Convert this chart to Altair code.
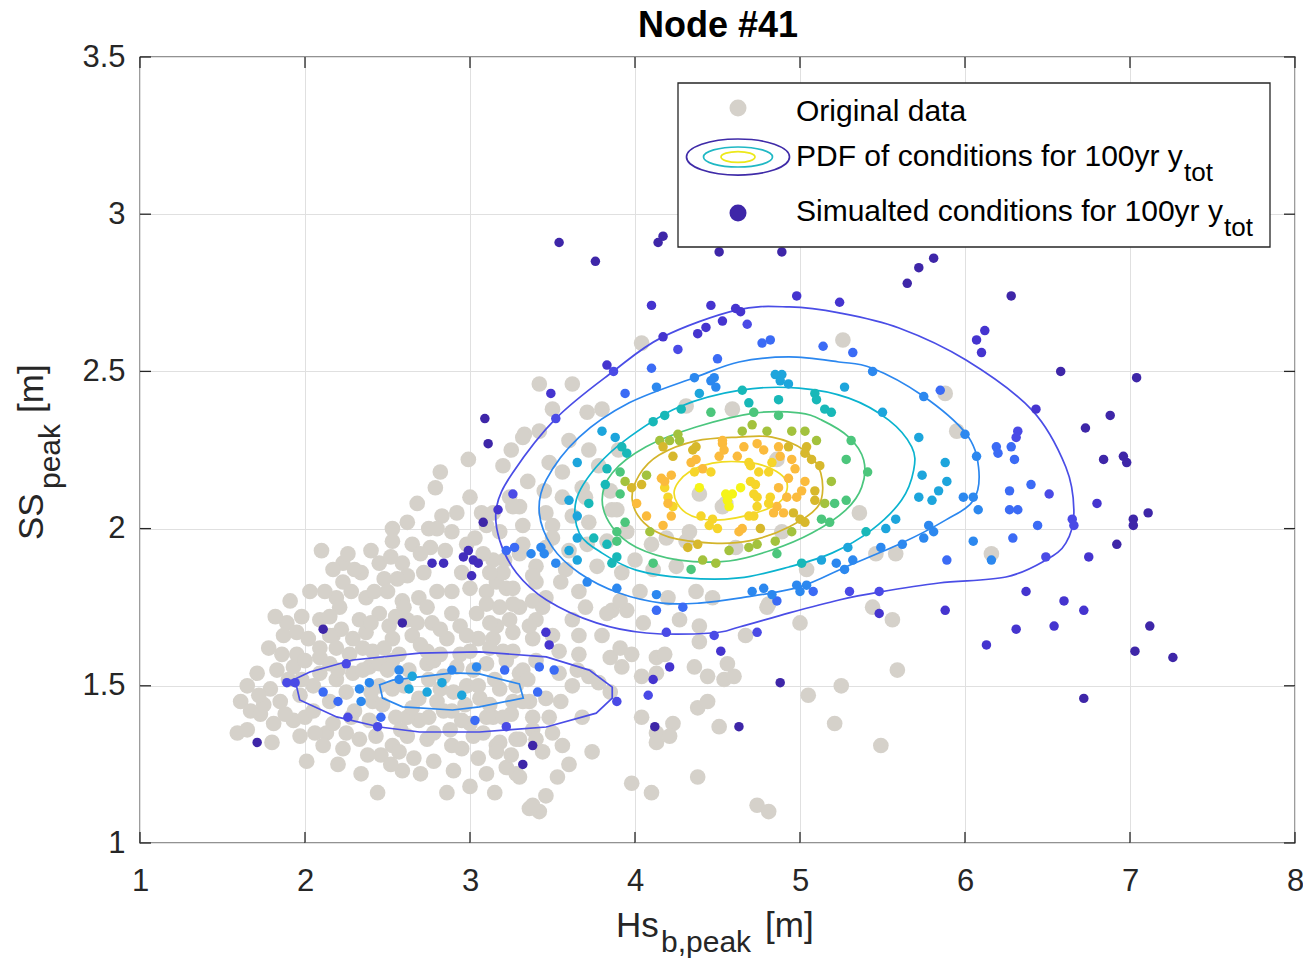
import altair as alt
import pandas as pd

FONT = "Liberation Sans"
TXT = "#262626"

# ---------------- data ----------------
x_ticks = [1, 2, 3, 4, 5, 6, 7, 8]
y_ticks = [1, 1.5, 2, 2.5, 3, 3.5]

orig_pts = [
    (2.99,2.22),(2.82,2.18),(2.79,2.13),(2.68,2.08),(2.83,2.04),(2.53,2.00),(2.80,2.00),(2.89,1.99),(2.53,1.96),(2.65,1.95),
    (2.76,1.94),(2.98,1.95),(3.07,2.05),(2.10,1.93),(2.23,1.89),(2.17,1.87),(2.34,1.86),(2.45,1.89),(2.59,1.89),(2.62,1.85),
    (2.48,1.84),(2.03,1.80),(1.91,1.77),(2.23,1.83),(2.28,1.80),(2.19,1.78),(2.37,1.78),(2.50,1.80),(2.59,1.77),(2.69,1.78),
    (2.80,1.80),(2.89,1.80),(3.00,1.81),(3.10,1.80),(3.16,1.83),(3.22,1.81),(3.20,1.86),(3.21,1.90),(3.14,1.90),(3.08,1.92),
    (3.03,1.97),(3.10,2.01),(3.30,2.07),(3.32,2.01),(3.20,2.20),(3.33,2.30),(3.42,2.31),(3.24,2.10),
    (2.21,1.75),(2.33,1.71),(2.45,1.73),(2.51,1.69),(2.62,1.71),(2.74,1.75),(2.77,1.70),(2.89,1.73),(2.94,1.69),(3.04,1.73),
    (3.10,1.76),(3.18,1.75),(3.24,1.71),(3.30,1.75),(3.38,1.77),(3.40,1.71),(1.89,1.70),(1.87,1.66),(1.95,1.67),(1.86,1.60),
    (1.95,1.60),(2.09,1.71),(2.09,1.62),(2.17,1.66),(2.29,1.65),(2.37,1.67),(2.41,1.61),(2.53,1.65),(2.65,1.66),(2.74,1.61),
    (2.86,1.65),(3.00,1.61),(3.14,1.65),(3.26,1.61),(3.38,1.65),
    (1.71,1.54),(1.61,1.45),(1.67,1.42),(1.73,1.41),(1.59,1.35),(1.65,1.36),(1.81,1.38),(1.79,1.49),(1.97,1.34),(1.93,1.39),
    (2.01,1.26),(2.09,1.59),(2.19,1.62),(2.13,1.35),(2.11,1.31),(2.23,1.30),(2.17,1.38),(2.33,1.33),(2.39,1.39),(2.43,1.34),
    (2.53,1.31),(2.57,1.29),(2.59,1.23),(2.44,1.16),(2.62,1.34),(2.69,1.39),(2.74,1.33),(2.80,1.45),(2.89,1.42),(2.89,1.31),
    (2.86,1.16),(3.00,1.38),(3.02,1.34),(3.10,1.40),(3.16,1.31),(3.10,1.22),(3.22,1.24),(3.30,1.33),(3.28,1.22),(3.36,1.11),
    (3.42,1.10),(3.44,1.29),(3.46,1.15),(1.75,1.44),(1.83,1.55),
    (2.09,1.54),(2.19,1.52),(2.29,1.54),(2.39,1.56),(2.53,1.58),(2.74,1.57),(2.94,1.60),(3.10,1.57),(3.20,1.61),(3.30,1.54),
    (3.40,1.58),(2.25,1.48),(2.41,1.45),(2.53,1.49),(2.69,1.46),(2.82,1.49),(2.98,1.50),(3.06,1.46),(3.18,1.49),(3.26,1.45),
    (3.36,1.45),(3.38,1.40),(2.62,1.40),
    (3.26,1.76),(3.44,1.75),(3.36,1.69),(3.62,1.71),(3.86,1.74),(3.95,1.74),(3.66,1.66),(3.50,1.66),(3.26,1.67),(3.16,1.69),
    (3.54,1.61),(3.66,1.60),(3.85,1.59),(3.91,1.62),(3.92,1.56),(3.32,1.55),(3.54,1.54),(3.72,1.53),(3.78,1.51),(3.32,1.45),
    (3.46,1.46),(3.14,1.40),(3.48,1.40),(3.38,1.36),(3.18,1.32),(3.28,1.33),(3.56,1.31),(3.74,1.29),(3.16,1.29),(3.30,1.21),
    (3.53,1.21),(3.38,1.12),(3.98,1.19),(4.10,1.16),(4.04,1.40),(4.13,1.35),(4.13,1.32),(4.23,1.38),(4.21,1.34),(4.38,1.43),
    (4.44,1.45),(4.51,1.37),(4.04,1.53),(4.13,1.54),(4.13,1.59),(4.18,1.60),(4.36,1.56),(4.44,1.53),(4.54,1.52),(4.60,1.53),
    (4.56,1.57),(4.39,1.64),(4.39,1.69),(4.67,1.66),(4.38,1.21),(4.74,1.12),(4.81,1.10),(5.00,1.70),(5.05,1.47),(5.25,1.50),
    (5.21,1.38),(5.49,1.31),(5.59,1.55),(5.56,1.71),(5.44,1.75),(4.80,1.75),
    (3.42,2.46),(3.62,2.46),(3.71,2.37),(3.32,2.29),(3.48,2.21),(3.56,2.18),(3.72,2.25),(3.78,2.20),(3.68,2.13),(3.56,2.10),
    (3.46,2.05),(3.62,2.04),(3.72,2.02),(3.86,2.06),(3.50,2.01),(3.18,1.99),(3.30,1.92),(3.46,1.94),(3.71,1.95),(3.83,1.96),
    (3.95,1.99),(3.40,1.88),(3.58,1.87),(3.77,1.88),(3.92,1.86),(4.11,1.87),(3.12,1.86),(3.26,1.81),(3.46,1.78),(3.66,1.80),
    (3.91,1.77),(4.03,1.80),(4.31,1.96),(4.39,2.11),(4.55,2.08),(4.37,1.80),(4.47,1.78),(4.27,1.71),(3.83,1.73),(4.59,2.38),
    (3.14,2.05),(3.26,2.07),
    (4.53,2.07),(4.86,2.22),(5.36,2.05),(4.31,2.39),(3.89,2.06),(4.33,1.99),(4.19,1.97),(5.04,1.87),(5.58,1.92),(4.89,1.99),
    (4.61,1.94),(5.26,2.60),(5.88,2.43),(5.95,2.31),(5.46,1.92),(6.16,1.92),(4.81,1.76),(4.04,2.59),
    (2.05,1.50),(2.15,1.57),(2.22,1.68),(2.27,1.60),(2.35,1.55),(2.45,1.50),(2.48,1.62),(2.57,1.60),(2.63,1.55),(2.70,1.63),
    (2.78,1.58),(2.84,1.53),(2.92,1.56),(2.97,1.44),(3.05,1.50),(3.12,1.62),(3.15,1.52),(3.22,1.58),(3.28,1.50),(2.30,1.42),
    (2.46,1.28),(2.66,1.27),(2.78,1.35),(2.95,1.30),(3.05,1.27),(2.20,1.25),(2.34,1.22),(2.70,1.22),(1.97,1.47),(1.85,1.45),
    (1.90,1.52),(2.00,1.40),(2.06,1.35),(2.25,1.35),(2.55,1.40),(2.84,1.42),(3.20,1.40),(3.35,1.52),(2.15,1.72),(2.42,1.80),
    (2.56,1.84),(2.72,1.86),(2.95,1.86),(3.05,1.65),(2.60,1.75),
    (1.78,1.62),(1.82,1.72),(1.98,1.72),(2.02,1.65),(1.93,1.56),(2.00,1.58),(2.12,1.80),(2.26,1.92),(2.40,1.93),(2.30,1.87),
    (2.52,1.91),(2.70,1.92),(2.85,1.93),(2.92,2.05),(2.75,2.00),(3.00,2.10),(2.62,2.02),(2.40,1.70),(2.55,1.72),(2.68,1.70),
    (2.82,1.68),(2.98,1.66),(3.12,1.70),(2.45,1.57),(2.60,1.50),(2.75,1.52),(2.90,1.48),(3.12,1.44),(3.25,1.41),(2.47,1.44),
    (2.65,1.43),(2.75,1.40),(2.95,1.39),(3.08,1.35),(3.25,1.28),(3.40,1.33),(3.50,1.35),(3.55,1.45),(3.62,1.50),(3.68,1.40),
    (3.60,1.25),(2.38,1.28),(2.52,1.25),(2.78,1.26),(2.90,1.23),(3.00,1.18),(3.15,1.16),(2.28,1.40),(2.15,1.45),(2.05,1.42),
    (1.88,1.41),(1.80,1.32),(1.72,1.47),(1.65,1.50),(1.98,1.52),(3.40,1.83),(3.55,1.83),(3.70,1.75),(3.80,1.66),(3.60,1.93),
    (3.50,1.97),(3.70,2.10),(3.60,2.28),(3.50,2.38),(3.25,2.25),(3.35,2.15),(3.45,2.12),(3.85,2.12),(3.90,2.25),(3.80,2.38),
    (3.65,1.55),(3.85,1.48),(3.98,1.60),(4.05,1.70),(4.20,1.78),(4.25,1.88),(4.10,1.95),(4.00,1.90),(3.32,1.95),(3.38,1.85),
    (2.20,1.55),(2.35,1.62),(2.15,1.66),(2.50,1.55),(2.82,1.60),(3.02,1.55),(2.88,1.36),(2.58,1.36),(2.40,1.48),
]

# (Hs, SS, pdf band: 0 = lowest density ... 12 = peak)
sim_pts = [
    (3.54,2.91,0),(3.76,2.85,0),(4.17,2.93,0),(4.14,2.91,0),(4.51,2.88,0),(4.89,2.88,0),(5.65,2.78,0),(6.28,2.74,0),(5.81,2.86,0),(5.72,2.83,0),
    (4.10,2.71,1),(4.46,2.71,1),(4.61,2.70,1),(4.64,2.69,1),(4.53,2.66,1),(4.43,2.64,1),(4.38,2.62,1),(4.17,2.61,1),(4.68,2.65,2),(4.26,2.57,2),
    (4.10,2.51,3),(4.50,2.54,3),(4.77,2.59,3),(4.82,2.60,3),(4.98,2.74,1),(5.24,2.72,1),(5.14,2.58,3),(5.32,2.56,3),(5.44,2.50,4),(3.83,2.52,1),
    (3.87,2.50,2),(4.85,2.49,5),(4.89,2.49,5),(4.36,2.48,4),(4.48,2.48,4),
    (4.88,2.47,5),(4.93,2.46,5),(4.65,2.44,6),(5.27,2.45,5),(5.09,2.43,6),(5.75,2.42,4),(5.85,2.44,3),(6.07,2.60,1),(6.12,2.63,1),(6.10,2.56,1),
    (6.58,2.50,0),(6.43,2.38,1),(6.73,2.32,0),(6.32,2.31,2),(6.31,2.29,2),(6.00,2.30,4),(5.50,2.37,5),(5.15,2.38,6),(5.19,2.37,6),(4.87,2.41,6),
    (4.69,2.40,6),(4.72,2.37,7),(4.87,2.36,7),(4.71,2.33,8),(4.65,2.31,8),(4.80,2.31,8),(4.95,2.31,8),(5.03,2.31,8),(5.10,2.28,8),(5.31,2.28,7),
    (5.10,2.41,6),
    (4.66,2.26,10),(4.74,2.27,10),(4.78,2.25,10),(4.87,2.26,10),(4.88,2.23,10),(4.93,2.26,9),(4.95,2.22,10),(5.04,2.26,9),(5.03,2.24,9),(5.07,2.22,9),
    (5.12,2.20,9),(5.28,2.22,7),(5.41,2.18,7),(5.19,2.15,8),
    (5.74,2.17,5),(5.88,2.21,5),(5.89,2.15,5),(5.84,2.12,5),(5.80,2.09,5),(5.72,2.10,5),(5.72,2.29,5),(5.99,2.10,4),(6.05,2.10,4),(6.07,2.23,4),
    (6.19,2.26,3),(6.20,2.24,3),(6.28,2.26,3),(6.30,2.22,3),(6.40,2.14,3),(6.51,2.11,2),(6.27,2.12,3),(6.08,2.06,4),(6.27,2.06,3),(6.32,2.06,3),
    (6.44,2.01,3),(6.65,2.03,2),(6.66,2.01,2),(6.29,1.97,3),(6.05,1.96,4),(6.16,1.90,4),(5.89,1.90,3),(6.49,1.91,2),(6.75,1.91,1),(6.37,1.80,1),
    (6.60,1.77,1),(6.72,1.74,1),(6.54,1.69,1),(6.31,1.68,1),(5.88,1.74,1),(5.48,1.73,1),(5.48,1.80,2),(5.30,1.80,2),(5.08,1.80,3),(5.04,1.82,4),
    (5.00,1.80,4),(4.98,1.82,4),(4.86,1.77,3),(4.83,1.79,4),(4.78,1.81,4),(4.71,1.80,4),(4.74,1.67,2),(5.27,1.87,4),(5.22,1.89,4),(5.32,1.90,4),
    (5.13,1.90,5),(5.01,1.89,6),(5.29,1.94,5),(5.49,1.94,4),(5.62,1.95,4),(5.40,1.99,6),(5.52,2.00,5),(5.58,2.03,5),(5.75,1.97,4),(5.78,2.01,4),
    (5.81,1.99,4),
    (4.86,1.92,7),(4.85,1.96,8),(4.69,1.94,8),(4.74,1.95,8),(4.95,1.99,8),(5.13,2.03,7),(5.18,2.02,7),(5.15,2.08,8),(5.21,2.08,7),(5.28,2.09,7),
    (4.83,2.21,11),(4.69,2.21,11),(4.75,2.18,11),(4.81,2.18,11),(4.70,2.15,11),(4.64,2.13,12),(4.73,2.14,11),(4.87,2.13,10),(4.93,2.16,10),(4.97,2.19,10),
    (5.03,2.15,10),(5.01,2.12,10),(4.98,2.10,10),(4.92,2.10,10),(4.82,2.10,11),(4.74,2.10,11),(4.74,2.07,11),(4.86,2.07,10),(4.90,2.05,10),(4.96,2.05,9),
    (5.09,2.12,9),(5.09,2.09,9),(5.00,2.03,9),(5.03,2.02,9),(4.69,2.04,11),(4.63,1.99,10),(4.76,2.00,9),
    (3.49,2.43,1),(3.94,2.43,3),(3.09,2.35,0),(3.11,2.27,0),(3.52,2.35,2),(4.13,2.45,4),(4.46,2.47,4),(4.49,2.45,4),(4.39,2.43,5),(4.28,2.38,6),
    (4.46,2.37,7),(4.18,2.36,6),(4.11,2.34,6),(3.80,2.31,5),(3.88,2.29,5),(3.92,2.26,6),(3.95,2.24,6),(3.65,2.21,5),(3.83,2.19,6),(3.82,2.14,6),
    (3.60,2.09,5),(3.65,2.04,5),(3.72,2.08,6),(3.75,1.97,6),(3.89,1.99,7),(3.89,1.96,7),(3.83,1.95,6),(3.65,1.97,5),(3.60,1.93,5),(3.43,1.94,4),
    (3.45,1.92,4),(3.37,1.92,4),(3.27,1.94,3),(3.22,1.93,3),(3.52,1.89,4),(3.65,1.90,5),(3.86,1.89,6),(3.89,1.91,6),(3.71,1.83,4),(3.89,1.81,4),
    (4.11,1.89,7),(4.34,1.87,7),(4.41,1.90,8),(4.49,1.89,8),(4.13,1.79,4),(4.13,1.74,3),(4.29,1.75,3),(4.19,1.67,2),(4.48,1.66,2),(3.26,2.11,2),
    (3.17,2.06,1),(3.08,2.02,0),
    (4.07,2.17,8),(3.98,2.13,9),(4.04,2.14,9),(3.91,2.11,7),(3.94,2.02,7),(4.01,2.08,10),(4.07,2.04,10),(4.09,1.99,8),(4.16,2.16,10),(4.18,2.13,11),
    (4.20,2.10,11),(4.23,2.07,11),(4.22,2.04,10),(4.22,2.17,10),(4.23,2.23,9),(4.15,2.28,8),(4.21,2.28,8),(4.27,2.28,8),(4.26,2.30,8),(4.35,2.25,9),
    (4.37,2.22,10),(4.34,2.21,10),(4.41,2.19,10),(4.46,2.18,11),(4.53,2.27,10),(4.54,2.25,10),(4.51,2.23,10),(4.62,2.23,10),(4.70,2.20,11),(4.39,2.13,12),
    (4.55,2.11,12),(4.59,2.11,12),(4.56,2.09,12),(4.40,2.04,11),(4.47,2.03,11),(4.50,2.00,11),(4.45,2.01,11),(4.72,2.04,11),(4.84,2.05,10),(4.81,2.08,11),
    (4.57,1.93,8),(4.38,1.95,9),(4.32,1.94,9),(4.20,2.08,10),(4.17,2.01,10),(3.94,2.15,8),(3.91,2.18,7),(4.17,2.26,9),
    (4.57,2.07,12),(4.72,2.11,11),(4.36,2.18,11),(4.18,2.15,10),(4.65,2.00,10),(4.53,2.28,10),(4.37,2.26,9),
    (2.25,1.57,2),(1.89,1.51,2),(1.94,1.51,2),(2.11,1.48,3),(2.20,1.45,3),(2.33,1.49,4),(2.39,1.51,4),(2.34,1.45,4),(2.26,1.40,2),(2.46,1.40,3),
    (2.44,1.37,2),(2.57,1.55,4),(2.57,1.52,4),(2.65,1.53,5),(2.63,1.49,5),(2.74,1.48,5),(2.83,1.51,5),(2.89,1.55,4),(2.95,1.47,5),(3.04,1.56,4),
    (3.03,1.39,3),(3.21,1.55,3),(3.22,1.37,2),(3.42,1.56,3),(3.41,1.48,3),(3.38,1.31,0),(3.32,1.25,0),(1.71,1.32,0),
    (3.46,1.67,1),(3.48,1.63,1),(3.51,1.55,3),(3.89,1.45,2),(4.11,1.52,1),(4.21,1.56,1),(4.08,1.47,2),(4.12,1.37,0),(4.63,1.37,0),(4.88,1.51,0),
    (4.52,1.61,1),
    (2.77,1.89,0.5),(2.84,1.89,0.5),(2.96,1.91,0.5),(2.99,1.93,0.5),(3.02,1.90,0.5),(3.05,1.89,0.5),(3.01,1.85,0.5),(2.11,1.68,0),(2.59,1.70,0),
    (7.04,2.48,0),(6.88,2.36,0),(6.84,2.22,0),(6.96,2.23,0),(6.98,2.21,0),(6.80,2.08,1),(7.02,2.03,0),(7.02,2.01,0),(7.11,2.05,0),(6.92,1.95,0),
    (6.13,1.63,1),(7.12,1.69,0),(7.03,1.61,0),(7.26,1.59,0),(6.72,1.46,0),
]

# PDF contour vertices (Hs, SS)
c1_x = [3.161,3.258,3.524,3.863,4.166,4.614,4.935,5.237,5.600,6.006,6.406,6.611,6.660,6.611,6.490,6.248,5.843,5.479,5.237,4.935,4.632,4.469,4.069,3.766,3.464,3.282,3.179]
c1_y = [2.069,2.177,2.352,2.498,2.609,2.695,2.705,2.686,2.638,2.536,2.377,2.196,2.050,1.954,1.900,1.846,1.827,1.798,1.773,1.732,1.687,1.668,1.668,1.700,1.773,1.859,1.964]
c2_x = [3.420,3.462,3.662,3.965,4.370,4.630,4.933,5.235,5.435,5.737,6.003,6.082,6.052,5.882,5.616,5.277,4.993,4.630,4.388,4.164,3.904,3.662,3.499]
c2_y = [2.050,2.155,2.291,2.400,2.482,2.530,2.546,2.530,2.511,2.425,2.304,2.196,2.091,2.027,1.954,1.878,1.814,1.779,1.763,1.763,1.795,1.859,1.941]
c3_x = [3.644,3.765,3.965,4.267,4.648,4.993,5.296,5.538,5.677,5.689,5.616,5.435,5.193,4.933,4.630,4.309,4.007,3.801,3.662]
c3_y = [2.091,2.196,2.291,2.387,2.441,2.447,2.415,2.345,2.260,2.186,2.091,1.996,1.922,1.878,1.843,1.843,1.868,1.922,1.986]
c4_x = [3.801,3.862,4.067,4.370,4.733,4.993,5.132,5.296,5.386,5.374,5.277,5.072,4.830,4.570,4.267,4.007,3.862]
c4_y = [2.091,2.177,2.260,2.323,2.368,2.368,2.345,2.291,2.218,2.132,2.059,1.986,1.932,1.897,1.900,1.941,2.005]
c5_x = [3.983,4.025,4.146,4.370,4.630,4.830,5.023,5.126,5.114,4.933,4.691,4.467,4.207,4.055]
c5_y = [2.091,2.170,2.234,2.279,2.291,2.291,2.250,2.177,2.075,2.005,1.961,1.954,1.973,2.018]
c6_x = [4.237,4.328,4.527,4.769,4.914,4.890,4.733,4.491,4.309]
c6_y = [2.116,2.180,2.212,2.202,2.155,2.091,2.050,2.027,2.050]
s1_x = [1.889,2.029,2.289,2.694,3.057,3.462,3.723,3.862,3.862,3.765,3.462,3.057,2.694,2.452,2.192,1.968,1.950]
s1_y = [1.509,1.544,1.582,1.604,1.608,1.592,1.550,1.496,1.461,1.413,1.369,1.353,1.353,1.369,1.401,1.455,1.496]
s2_x = [2.452,2.531,2.894,3.057,3.299,3.323,3.057,2.894,2.591,2.470]
s2_y = [1.503,1.518,1.541,1.538,1.506,1.461,1.433,1.423,1.433,1.461]

level_colors = ["#3e26a8", "#4534cf", "#4a4ae6", "#3b6bf5", "#2c88ef", "#1da5dc", "#18b8b8",
                "#4cc67c", "#a3c23d", "#d7b82c", "#fbbb3d", "#f6d52a", "#f5f418"]

# ---------------- chart ----------------
W, H = 1155, 786
xs = alt.Scale(domain=[1, 8], nice=False, zero=False)
ys = alt.Scale(domain=[1, 3.5], nice=False, zero=False)
common_axis = dict(format="~g", grid=True, gridColor="#e0e0e0", gridWidth=1, ticks=False, domain=False,
                   labelFont=FONT, labelFontSize=31, labelColor=TXT, labelFlush=False, labelOverlap=False, title=None)
xaxis = alt.Axis(values=x_ticks, labelPadding=23, **common_axis)
yaxis = alt.Axis(values=y_ticks, labelPadding=15, **common_axis)


def X(f):
    return alt.X(f, type="quantitative", scale=xs, axis=xaxis)


def Y(f):
    return alt.Y(f, type="quantitative", scale=ys, axis=yaxis)


one = pd.DataFrame({"k": [0]})

orig_df = pd.DataFrame(orig_pts, columns=["x", "y"])
sim_df = pd.DataFrame(sim_pts, columns=["x", "y", "level"])

grey = alt.Chart(orig_df).mark_circle(size=245, color="#d5d1ca", opacity=1).encode(x=X("x"), y=Y("y"))

contours = [
    (c1_x, c1_y, "#4a4de6", "cardinal-closed"),
    (c2_x, c2_y, "#2b87ef", "cardinal-closed"),
    (c3_x, c3_y, "#0ab3cf", "cardinal-closed"),
    (c4_x, c4_y, "#4bc67e", "cardinal-closed"),
    (c5_x, c5_y, "#d3b42b", "cardinal-closed"),
    (c6_x, c6_y, "#f1dc22", "cardinal-closed"),
    (s1_x, s1_y, "#4a4de6", "linear-closed"),
    (s2_x, s2_y, "#2b87ef", "linear-closed"),
]
contour_layers = []
for cx, cy, col, interp in contours:
    df = pd.DataFrame({"x": cx, "y": cy, "i": list(range(len(cx)))})
    contour_layers.append(
        alt.Chart(df).mark_line(color=col, strokeWidth=1.7, interpolate=interp)
        .encode(x=X("x"), y=Y("y"), order=alt.Order("i:Q"))
    )

sim = alt.Chart(sim_df).mark_circle(size=90, opacity=1).encode(
    x=X("x"), y=Y("y"),
    color=alt.Color("level:Q", scale=alt.Scale(domain=list(range(13)), range=level_colors, interpolate="rgb"),
                    legend=None),
)

xt = pd.DataFrame({"v": x_ticks})
yt = pd.DataFrame({"v": y_ticks})
rule = dict(color=TXT, strokeWidth=1.3)
tick_b = alt.Chart(xt).mark_rule(**rule).encode(x=X("v"), y=alt.value(H), y2=alt.value(H - 11))
tick_t = alt.Chart(xt).mark_rule(**rule).encode(x=X("v"), y=alt.value(0), y2=alt.value(11))
tick_l = alt.Chart(yt).mark_rule(**rule).encode(y=Y("v"), x=alt.value(0), x2=alt.value(11))
tick_r = alt.Chart(yt).mark_rule(**rule).encode(y=Y("v"), x=alt.value(W), x2=alt.value(W - 11))


def txt(s, x, y, size, color="#000000", bold=False, angle=None, align="left"):
    m = dict(text=s, font=FONT, fontSize=size, color=color, align=align, baseline="alphabetic")
    if bold:
        m["fontWeight"] = "bold"
    if angle is not None:
        m["angle"] = angle
    return alt.Chart(one).mark_text(**m).encode(x=alt.value(x), y=alt.value(y))


def ellipse_path(r):
    k = 0.5523
    return (f"M -1 0 C -1 {-k*r:.4f} {-k} {-r} 0 {-r} C {k} {-r} 1 {-k*r:.4f} 1 0 "
            f"C 1 {k*r:.4f} {k} {r} 0 {r} C {-k} {r} -1 {k*r:.4f} -1 0 Z")


box = alt.Chart(one).mark_rect(fill="white", stroke=TXT, strokeWidth=1.3).encode(
    x=alt.value(538), x2=alt.value(1130), y=alt.value(26), y2=alt.value(190))
leg_grey = alt.Chart(one).mark_circle(size=290, color="#d5d1ca", opacity=1).encode(x=alt.value(598), y=alt.value(51))
leg_sim = alt.Chart(one).mark_circle(size=290, color="#3e26a8", opacity=1).encode(x=alt.value(598), y=alt.value(156))
leg_ell = []
for w, r, col in [(103, 0.35, "#3f2ba8"), (69, 0.29, "#1fb8c4"), (34, 0.32, "#ece81a")]:
    leg_ell.append(
        alt.Chart(one).mark_point(shape=ellipse_path(r), size=w * w, filled=False, color=col,
                                  strokeWidth=1.7, opacity=1)
        .encode(x=alt.value(598), y=alt.value(100))
    )

texts = [
    txt("Original data", 656, 64, 30),
    txt("PDF of conditions for 100yr y", 656, 109, 30),
    txt("tot", 1044, 124, 26),
    txt("Simualted conditions for 100yr y", 656, 164, 30),
    txt("tot", 1084, 179, 26),
    txt("Node #41", 578, -20, 36, bold=True, align="center"),
    txt("Hs", 476, 880, 35, color=TXT),
    txt("b,peak", 521, 895, 30, color=TXT),
    txt("[m]", 625, 880, 35, color=TXT),
    txt("SS", -97, 483, 35, color=TXT, angle=270),
    txt("peak", -80, 432, 30, color=TXT, angle=270),
    txt("[m]", -97, 356, 35, color=TXT, angle=270),
]

chart = alt.layer(
    grey, *contour_layers, sim, tick_b, tick_t, tick_l, tick_r,
    box, leg_grey, *leg_ell, leg_sim, *texts
).properties(
    width=W, height=H,
    autosize=alt.AutoSizeParams(type="none"),
    padding={"left": 140, "top": 57, "right": 8, "bottom": 121},
    background="white",
).configure_view(stroke=TXT, strokeWidth=1.3)

chart.save("out.html", embed_options={"renderer": "svg", "actions": False})
